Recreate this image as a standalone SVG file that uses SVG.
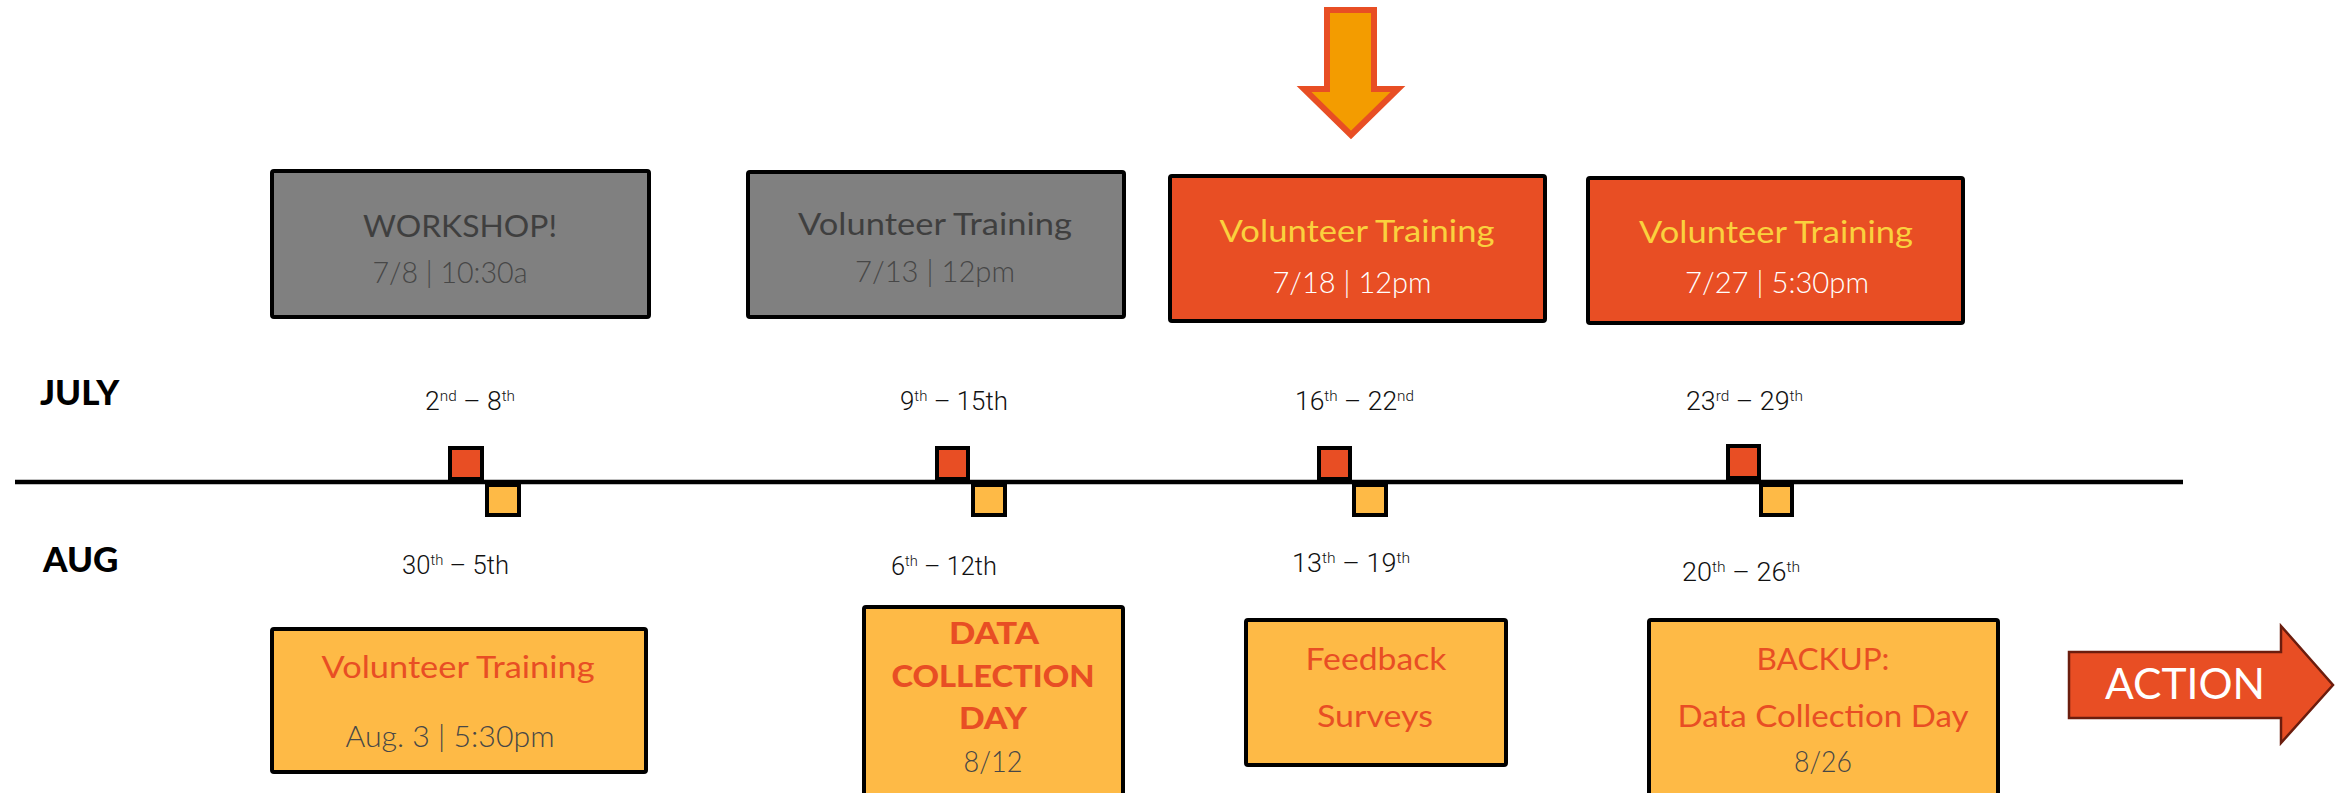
<svg xmlns="http://www.w3.org/2000/svg" width="2336" height="793" viewBox="0 0 2336 793">
<style>
.box{stroke:#000;stroke-width:4}
.gray{fill:#808080}
.red{fill:#E84E24}
.yel{fill:#FEBA46}
.t{font-family:Lato,"Open Sans","Liberation Sans",sans-serif;text-anchor:middle}
.title{font-size:31px;font-weight:400}
.date{font-size:30px;font-weight:300}
.dk{fill:#3f3f3f}
.dk2{fill:#474747}
.ylw{fill:#FAD13E}
.wht{fill:#fff}
.rtx{fill:#E84E24}
.bold{font-weight:900}
.wk{font-family:Roboto,"Liberation Sans",sans-serif;font-weight:300;font-size:26px;fill:#111}
.sup{font-size:15px}
.month{font-family:Lato,"Liberation Sans",sans-serif;font-weight:900;font-size:35px;fill:#000}
.sq{stroke:#000;stroke-width:4}
</style>

<g id="connectors">
  <line x1="15" y1="482" x2="2183" y2="482" stroke="#000" stroke-width="4.5"/>
</g>

<g id="focus-arrow">
  <polygon points="1327,10 1374,10 1374,89 1398,89 1351,135 1304,89 1327,89" fill="#F39C00" stroke="#E84E24" stroke-width="6"/>
</g>

<g id="markers">
  <rect class="sq red" x="450" y="448" width="32" height="31"/>
  <rect class="sq yel" x="487" y="485" width="32" height="30"/>
  <rect class="sq red" x="937" y="448" width="31" height="31"/>
  <rect class="sq yel" x="973" y="485" width="32" height="30"/>
  <rect class="sq red" x="1319" y="448" width="31" height="31"/>
  <rect class="sq yel" x="1354" y="485" width="32" height="30"/>
  <rect class="sq red" x="1728" y="446" width="31" height="32"/>
  <rect class="sq yel" x="1761" y="485" width="31" height="30"/>
</g>

<g id="month-july"><text class="month" x="40" y="405">JULY</text></g>
<g id="month-aug"><text class="month" x="43" y="572" font-size="33">AUG</text></g>

<g id="week-labels">
  <text class="wk" x="425" y="410" textLength="90" lengthAdjust="spacingAndGlyphs">2<tspan class="sup" dy="-9">nd</tspan><tspan dy="9"> – 8</tspan><tspan class="sup" dy="-9">th</tspan></text>
  <text class="wk" x="900" y="410" textLength="108" lengthAdjust="spacingAndGlyphs">9<tspan class="sup" dy="-9">th</tspan><tspan dy="9"> – 15th</tspan></text>
  <text class="wk" x="1295" y="410" textLength="119" lengthAdjust="spacingAndGlyphs">16<tspan class="sup" dy="-9">th</tspan><tspan dy="9"> – 22</tspan><tspan class="sup" dy="-9">nd</tspan></text>
  <text class="wk" x="1686" y="410" textLength="117" lengthAdjust="spacingAndGlyphs">23<tspan class="sup" dy="-9">rd</tspan><tspan dy="9"> – 29</tspan><tspan class="sup" dy="-9">th</tspan></text>
  <text class="wk" x="402" y="574" textLength="107" lengthAdjust="spacingAndGlyphs">30<tspan class="sup" dy="-9">th</tspan><tspan dy="9"> – 5th</tspan></text>
  <text class="wk" x="891" y="575" textLength="106" lengthAdjust="spacingAndGlyphs">6<tspan class="sup" dy="-9">th</tspan><tspan dy="9"> – 12th</tspan></text>
  <text class="wk" x="1292" y="572" textLength="118" lengthAdjust="spacingAndGlyphs">13<tspan class="sup" dy="-9">th</tspan><tspan dy="9"> – 19</tspan><tspan class="sup" dy="-9">th</tspan></text>
  <text class="wk" x="1682" y="581" textLength="118" lengthAdjust="spacingAndGlyphs">20<tspan class="sup" dy="-9">th</tspan><tspan dy="9"> – 26</tspan><tspan class="sup" dy="-9">th</tspan></text>
</g>

<g id="workshop">
  <rect class="box gray" x="272" y="171" width="377" height="146" rx="2"/>
  <text class="t title dk" x="460" y="237" font-size="32" textLength="194" lengthAdjust="spacingAndGlyphs">WORKSHOP!</text>
  <text class="t date dk2" x="450" y="283" textLength="155" lengthAdjust="spacingAndGlyphs">7/8 | 10:30a</text>
</g>

<g id="training-713">
  <rect class="box gray" x="748" y="172" width="376" height="145" rx="2"/>
  <text class="t title dk" x="935" y="235" textLength="274" lengthAdjust="spacingAndGlyphs">Volunteer Training</text>
  <text class="t date dk2" x="935" y="282" textLength="160" lengthAdjust="spacingAndGlyphs">7/13 | 12pm</text>
</g>

<g id="training-718">
  <rect class="box red" x="1170" y="176" width="375" height="145" rx="2"/>
  <text class="t title ylw" x="1357" y="242" textLength="275" lengthAdjust="spacingAndGlyphs">Volunteer Training</text>
  <text class="t date wht" x="1352" y="293" textLength="159" lengthAdjust="spacingAndGlyphs">7/18 | 12pm</text>
</g>

<g id="training-727">
  <rect class="box red" x="1588" y="178" width="375" height="145" rx="2"/>
  <text class="t title ylw" x="1776" y="243" textLength="274" lengthAdjust="spacingAndGlyphs">Volunteer Training</text>
  <text class="t date wht" x="1777" y="293" textLength="184" lengthAdjust="spacingAndGlyphs">7/27 | 5:30pm</text>
</g>

<g id="training-aug3">
  <rect class="box yel" x="272" y="629" width="374" height="143" rx="2"/>
  <text class="t title rtx" x="458" y="678" textLength="273" lengthAdjust="spacingAndGlyphs">Volunteer Training</text>
  <text class="t date dk2" x="450" y="747" textLength="209" lengthAdjust="spacingAndGlyphs">Aug. 3 | 5:30pm</text>
</g>

<g id="data-collection">
  <rect class="box yel" x="864" y="607" width="259" height="200" rx="2"/>
  <text class="t rtx bold" x="994" y="644" font-size="30" textLength="90" lengthAdjust="spacingAndGlyphs">DATA</text>
  <text class="t rtx bold" x="993" y="687" font-size="30" textLength="203" lengthAdjust="spacingAndGlyphs">COLLECTION</text>
  <text class="t rtx bold" x="993" y="729" font-size="30" textLength="68" lengthAdjust="spacingAndGlyphs">DAY</text>
  <text class="t date dk2" x="993" y="772" font-size="29" textLength="59" lengthAdjust="spacingAndGlyphs">8/12</text>
</g>

<g id="feedback">
  <rect class="box yel" x="1246" y="620" width="260" height="145" rx="2"/>
  <text class="t title rtx" x="1376" y="670" textLength="141" lengthAdjust="spacingAndGlyphs">Feedback</text>
  <text class="t title rtx" x="1375" y="727" textLength="116" lengthAdjust="spacingAndGlyphs">Surveys</text>
</g>

<g id="backup">
  <rect class="box yel" x="1649" y="620" width="349" height="190" rx="2"/>
  <text class="t title rtx" x="1823" y="670" textLength="133" lengthAdjust="spacingAndGlyphs">BACKUP:</text>
  <text class="t title rtx" x="1823" y="727" textLength="291" lengthAdjust="spacingAndGlyphs">Data Collection Day</text>
  <text class="t date dk2" x="1823" y="772" font-size="29" textLength="58" lengthAdjust="spacingAndGlyphs">8/26</text>
</g>

<g id="action">
  <polygon points="2069,652 2281,652 2281,626 2333,685 2281,743 2281,718 2069,718" fill="#E84E24" stroke="#6B1D0E" stroke-width="2.5"/>
  <text class="t wht" x="2185" y="699" font-size="43" textLength="160" lengthAdjust="spacingAndGlyphs">ACTION</text>
</g>
</svg>
